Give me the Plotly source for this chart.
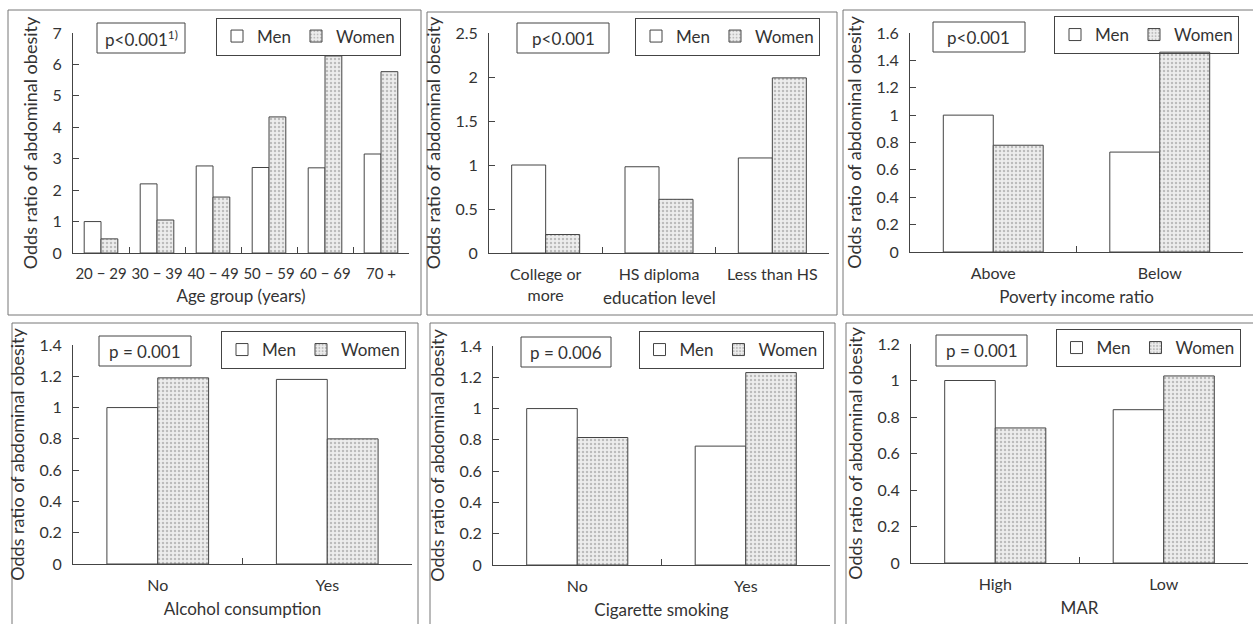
import plotly.graph_objects as go

# ---------------- data ----------------
age_groups = ["20 − 29", "30 − 39", "40 − 49", "50 − 59", "60 − 69", "70 +"]
age_men = [1.0, 2.2, 2.77, 2.72, 2.71, 3.15]
age_women = [0.45, 1.05, 1.78, 4.33, 6.27, 5.77]

edu_levels = ["College or<br>more", "HS diploma", "Less than HS"]
edu_men = [1.0, 0.98, 1.08]
edu_women = [0.21, 0.61, 1.99]

pir_levels = ["Above", "Below"]
pir_men = [1.0, 0.73]
pir_women = [0.78, 1.46]

alcohol_levels = ["No", "Yes"]
alcohol_men = [1.0, 1.18]
alcohol_women = [1.19, 0.80]

smoking_levels = ["No", "Yes"]
smoking_men = [1.0, 0.76]
smoking_women = [0.815, 1.23]

mar_levels = ["High", "Low"]
mar_men = [1.0, 0.84]
mar_women = [0.74, 1.025]

p_values = ["p<0.001<sup>1)</sup>", "p<0.001", "p<0.001", "p = 0.001", "p = 0.006", "p = 0.001"]
x_titles = ["Age group (years)", None, "Poverty income ratio", "Alcohol consumption", "Cigarette smoking", "MAR"]
y_title = "Odds ratio of abdominal obesity"

# ---------------- layout helpers ----------------
W, H = 1253, 624
FONT = "Lato"
TXT = "#333333"
LINE = "#444444"


def xd(a, b):
    return [a / W, b / W]


def yd(top, bottom):
    return [1 - bottom / H, 1 - top / H]


panels = [
    dict(cats=age_groups, men=age_men, women=age_women, ymax=7, dtick=1, tfs=15,
         x=(73, 409), y=(33, 253), pbox=(97, 23, 185, 53), leg=(209, 23, 408, 50), box=(8, 10, 421, 315)),
    dict(cats=edu_levels, men=edu_men, women=edu_women, ymax=2.5, dtick=0.5, tfs=16,
         x=(489, 829), y=(33, 253), pbox=(517, 23, 609, 53), leg=(627, 23, 828, 50), box=(427, 12, 837, 315)),
    dict(cats=pir_levels, men=pir_men, women=pir_women, ymax=1.6, dtick=0.2, tfs=16,
         x=(910, 1243), y=(33, 252), pbox=(933, 22, 1025, 52), leg=(1046, 22, 1247, 48), box=(843, 10, 1260, 315)),
    dict(cats=alcohol_levels, men=alcohol_men, women=alcohol_women, ymax=1.4, dtick=0.2, tfs=16,
         x=(73, 412), y=(345, 564), pbox=(99, 336, 191, 366), leg=(212, 337, 415, 363), box=(12, 323, 418, 630)),
    dict(cats=smoking_levels, men=smoking_men, women=smoking_women, ymax=1.4, dtick=0.2, tfs=16,
         x=(493, 830), y=(346, 565), pbox=(521, 337, 611, 367), leg=(630, 337, 832, 363), box=(430, 323, 835, 630)),
    dict(cats=mar_levels, men=mar_men, women=mar_women, ymax=1.2, dtick=0.2, tfs=16,
         x=(911, 1248), y=(344, 563), pbox=(936, 335, 1027, 366), leg=(1048, 335, 1248, 361), box=(846, 323, 1260, 630)),
]

fig = go.Figure()
layout = dict(
    width=W, height=H,
    margin=dict(l=0, r=0, t=0, b=0, autoexpand=False),
    paper_bgcolor="white", plot_bgcolor="white",
    font=dict(family=FONT, size=16, color=TXT),
    barmode="group", bargap=0.4, bargroupgap=0,
    shapes=[], annotations=[],
)

for i, p in enumerate(panels):
    n = i + 1
    sx = "" if n == 1 else str(n)
    legname = "legend" if n == 1 else f"legend{n}"
    fig.add_trace(go.Bar(
        x=p["cats"], y=p["men"], name="Men",
        xaxis=f"x{sx}", yaxis=f"y{sx}", legend=legname,
        marker=dict(color="white", line=dict(color=LINE, width=1)),
    ))
    fig.add_trace(go.Bar(
        x=p["cats"], y=p["women"], name="Women",
        xaxis=f"x{sx}", yaxis=f"y{sx}", legend=legname,
        marker=dict(color="#ededed", line=dict(color=LINE, width=1),
                    pattern=dict(shape=".", fgcolor="#8a8a8a", size=4, solidity=0.3)),
    ))
    xaxis = dict(
        domain=xd(*p["x"]), anchor=f"y{sx}",
        showline=True, linecolor=LINE, linewidth=1,
        ticks="inside", tickson="boundaries", ticklen=6, tickcolor=LINE,
        showgrid=False, zeroline=False, tickangle=0, automargin=False,
        tickfont=dict(size=p["tfs"], color=TXT),
        ticklabelstandoff=7,
        fixedrange=True,
    )
    if x_titles[i]:
        xaxis["title"] = dict(text=x_titles[i], font=dict(size=17, color=TXT), standoff=9)
    layout[f"xaxis{sx}"] = xaxis
    layout[f"yaxis{sx}"] = dict(
        domain=yd(*p["y"]), anchor=f"x{sx}",
        range=[0, p["ymax"]], dtick=p["dtick"], tick0=0,
        showline=True, linecolor=LINE, linewidth=1,
        ticks="inside", ticklen=6, tickcolor=LINE,
        showgrid=False, zeroline=False, automargin=False,
        tickfont=dict(size=16, color=TXT),
        ticklabelstandoff=7,
        title=dict(text=y_title, font=dict(size=18, color=TXT), standoff=10),
        fixedrange=True,
    )
    lx0, ly0, lx1, ly1 = p["leg"]
    layout[legname] = dict(
        x=(lx0 + lx1) / 2 / W, y=1 - (ly0 + ly1) / 2 / H, xanchor="center", yanchor="middle",
        orientation="h", bordercolor=LINE, borderwidth=1, bgcolor="rgba(0,0,0,0)",
        font=dict(size=17, color=TXT), itemwidth=30, traceorder="normal",
    )
    # panel frame
    bx0, by0, bx1, by1 = p["box"]
    layout["shapes"].append(dict(type="rect", xref="paper", yref="paper",
                                 x0=bx0 / W, x1=bx1 / W, y0=1 - by1 / H, y1=1 - by0 / H,
                                 line=dict(color="#777777", width=1), layer="below"))
    # p-value box
    px0, py0, px1, py1 = p["pbox"]
    layout["shapes"].append(dict(type="rect", xref="paper", yref="paper",
                                 x0=px0 / W, x1=px1 / W, y0=1 - py1 / H, y1=1 - py0 / H,
                                 line=dict(color=LINE, width=1)))
    layout["annotations"].append(dict(
        text=p_values[i], xref="paper", yref="paper",
        x=(px0 + px1) / 2 / W, y=1 - (py0 + py1) / 2 / H,
        xanchor="center", yanchor="middle", showarrow=False,
        font=dict(size=17, color=TXT)))

# panel 2: axis title shares the second line of the tick labels
layout["annotations"].append(dict(
    text="education level", xref="x2 domain", yref="paper",
    x=0.5, y=1 - 297 / H, xanchor="center", yanchor="middle", showarrow=False,
    font=dict(size=17, color=TXT)))

fig.update_layout(**layout)
fig.write_html("out.html",
               config={"displayModeBar": False},
               post_script="document.body.style.margin='0';document.body.style.overflow='hidden';")
